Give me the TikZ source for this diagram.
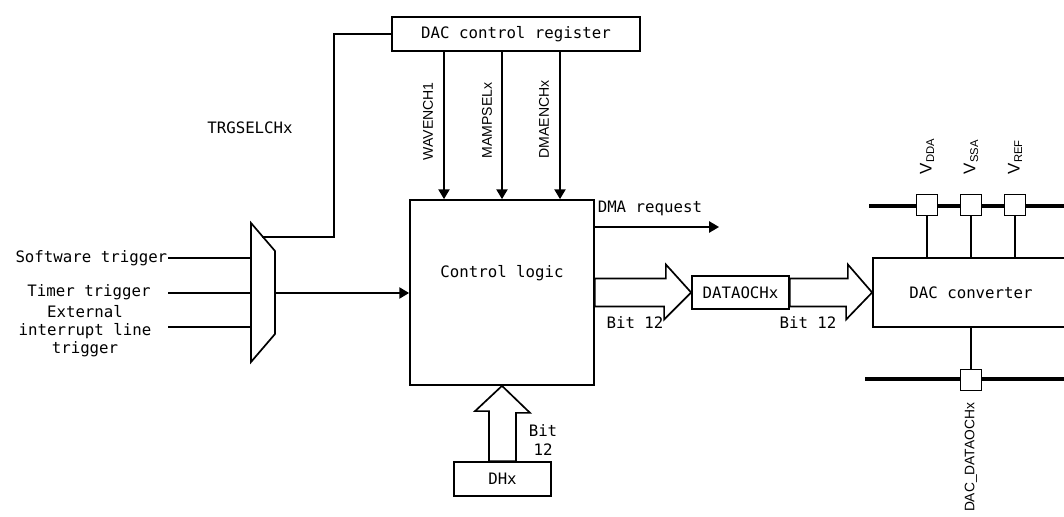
\documentclass[tikz,border=0pt]{standalone}
\usepackage{fontspec}
\setmainfont{DejaVu Sans Mono}
\newfontfamily\pinfont{Liberation Sans}
\usetikzlibrary{arrows.meta,calc,positioning}

\begin{document}
\begin{tikzpicture}[x=0.025cm, y=-0.025cm, line width=1.1pt,
  box/.style = {draw, rectangle, line width=1.2pt, fill=white, inner sep=0pt},
  pad/.style = {draw, rectangle, line width=1.2pt, fill=white, minimum size=0.525cm, inner sep=0pt},
  sig/.style = {-{Triangle[length=7pt,width=8pt]}},
  bus/.style = {draw, line width=1.2pt, fill=white, line join=miter},
  rail/.style = {line width=3pt},
  txt/.style = {font=\fontsize{11.2}{13}\selectfont, inner sep=0pt},
  vlbl/.style = {rotate=90, inner sep=0pt, font=\pinfont\fontsize{10}{12}\selectfont},
  pinlbl/.style = {rotate=90, inner sep=0pt, font=\pinfont\fontsize{12}{14}\selectfont}]

    \useasboundingbox (0,0) rectangle (1064,517);

    % 1. Bloki
    \node[box, txt, minimum width=6.2cm, minimum height=0.85cm] (reg) at (516,34) {DAC control register};
    \node[box, minimum width=4.6cm, minimum height=4.625cm] (ctrl) at (502,292.5) {};
    \node[txt] (ctrl-lbl) at ($(ctrl.center)+(0,-19)$) {Control logic};
    \node[box, txt, minimum width=2.425cm, minimum height=0.825cm] (data) at (740.5,292.5) {DATAOCHx};
    \node[box, txt, minimum width=2.425cm, minimum height=0.85cm] (dhx) at (502.5,479) {DHx};
    \node[box, txt, minimum width=4.9cm, minimum height=1.725cm] (conv) at (971,292.5) {DAC converter};

    % 2. Multiplekser wyzwalania
    \coordinate (mux-tl) at (251,223);
    \coordinate (mux-tr) at (275,251);
    \coordinate (mux-br) at (275,334);
    \coordinate (mux-bl) at (251,362);
    \draw[line width=1.2pt] (mux-tl) -- (mux-tr) -- (mux-br) -- (mux-bl) -- cycle;

    \coordinate (sw-in) at (168,258);
    \coordinate (tm-in) at (168,293);
    \coordinate (ex-in) at (168,327);
    \node[txt, anchor=east] (sw-lbl) at (sw-in) {Software trigger};
    \node[txt] (tm-lbl) at (89,292) {Timer trigger};
    \node[txt, align=center] (ex-lbl) at (85,331) {External\\interrupt line\\trigger};
    \draw (sw-in) -- (sw-in -| mux-tl);
    \draw (tm-in) -- (tm-in -| mux-tl);
    \draw (ex-in) -- (ex-in -| mux-tl);
    \draw[sig, line width=1.2pt] (mux-tr |- tm-in) -- (ctrl.west |- tm-in);

    % 3. Wybor wyzwalacza z rejestru
    \coordinate (mux-sel) at (262,237);
    \coordinate (sel-bend) at (334,237);
    \draw (reg.west) -| (sel-bend) -- (mux-sel);
    \node[txt] (trg-lbl) at (250,128) {TRGSELCHx};

    % 4. Bity sterujace
    \coordinate (wav-in) at ($(ctrl.north)+(-58,0)$);
    \coordinate (mamp-in) at (ctrl.north);
    \coordinate (dmaen-in) at ($(ctrl.north)+(58,0)$);
    \draw[sig] (reg.south -| wav-in) -- (wav-in);
    \draw[sig] (reg.south -| mamp-in) -- (mamp-in);
    \draw[sig] (reg.south -| dmaen-in) -- (dmaen-in);
    \node[vlbl, anchor=west] (wav-lbl) at ($(ctrl.north)+(-74,-38)$) {WAVENCH1};
    \node[vlbl, anchor=west] (mamp-lbl) at ($(ctrl.north)+(-15,-40)$) {MAMPSELx};
    \node[vlbl, anchor=west] (dmaen-lbl) at ($(ctrl.north)+(42,-40)$) {DMAENCHx};

    % 5. Zadanie DMA
    \coordinate (dma-end) at (719,227);
    \draw[sig] (ctrl.east |- dma-end) -- (dma-end);
    \node[txt, anchor=west] (dma-lbl) at (597,208) {DMA request};

    % 6. Szyny danych (szerokie strzalki)
    \draw[bus] ($(ctrl.east)+(0,-14)$) -- ++(71,0) -- ++(0,-14) -- (data.west)
        -- ++(-27,27) -- ++(0,-13) -- ($(ctrl.east)+(0,14)$) -- cycle;
    \draw[bus] ($(data.east)+(0,-14)$) -- ++(58,0) -- ++(0,-14) -- (conv.west)
        -- ++(-26,27) -- ++(0,-13) -- ($(data.east)+(0,14)$) -- cycle;
    \draw[bus] ($(dhx.north)+(-13.5,0)$) -- ++(0,-50) -- ++(-14,0) -- (ctrl.south)
        -- ++(28,27) -- ++(-14,0) -- ($(dhx.north)+(13.5,0)$) -- cycle;
    \node[txt] (bit-a) at (635,323) {Bit 12};
    \node[txt] (bit-b) at (808,323) {Bit 12};
    \node[txt, align=center] (bit-c) at (543,440) {Bit\\12};

    % 7. Zasilanie i wyjscie przetwornika
    \coordinate (rail-top-l) at (869,206);
    \coordinate (rail-top-r) at (1070,206);
    \coordinate (rail-bot-l) at (865,379);
    \coordinate (rail-bot-r) at (1070,379);
    \draw[rail] (rail-top-l) -- (rail-top-r);
    \draw[rail] (rail-bot-l) -- (rail-bot-r);
    \node[pad] (vdda) at ($(conv.north)+(-44,-52)$) {};
    \node[pad] (vssa) at ($(conv.north)+(0,-52)$) {};
    \node[pad] (vref) at ($(conv.north)+(44,-52)$) {};
    \node[pad] (dout) at ($(conv.south)+(0,52)$) {};
    \draw (vdda.south) -- (vdda.south |- conv.north);
    \draw (vssa.south) -- (vssa.south |- conv.north);
    \draw (vref.south) -- (vref.south |- conv.north);
    \draw (conv.south) -- (dout.north);
    \node[pinlbl, anchor=west] (vdda-lbl) at ($(vdda.north)+(0,-19)$) {V\textsubscript{DDA}};
    \node[pinlbl, anchor=west] (vssa-lbl) at ($(vssa.north)+(0,-19)$) {V\textsubscript{SSA}};
    \node[pinlbl, anchor=west] (vref-lbl) at ($(vref.north)+(0,-19)$) {V\textsubscript{REF}};
    \node[vlbl, font=\pinfont\fontsize{9.8}{12}\selectfont, anchor=east] (dout-lbl) at ($(dout.south)+(0,11)$) {DAC\_DATAOCHx};
\end{tikzpicture}
\end{document}
